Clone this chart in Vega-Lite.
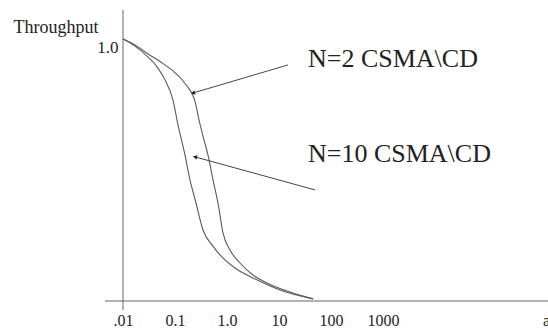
{
  "$schema": "https://vega.github.io/schema/vega-lite/v6.json",
  "width": 443,
  "height": 300,
  "autosize": {"type": "none"},
  "padding": {"left": 105, "top": 10, "right": 0, "bottom": 19},
  "background": "white",
  "config": {"view": {"stroke": null}, "font": "Liberation Serif"},
  "datasets": {
    "curves": [
      {"series": "N=10", "load": 0.01, "throughput": 1.0},
      {"series": "N=10", "load": 0.017, "throughput": 0.973},
      {"series": "N=10", "load": 0.0303, "throughput": 0.931},
      {"series": "N=10", "load": 0.0471, "throughput": 0.889},
      {"series": "N=10", "load": 0.0642, "throughput": 0.844},
      {"series": "N=10", "load": 0.0915, "throughput": 0.767},
      {"series": "N=10", "load": 0.1142, "throughput": 0.672},
      {"series": "N=10", "load": 0.1557, "throughput": 0.557},
      {"series": "N=10", "load": 0.1942, "throughput": 0.462},
      {"series": "N=10", "load": 0.2534, "throughput": 0.374},
      {"series": "N=10", "load": 0.3455, "throughput": 0.271},
      {"series": "N=10", "load": 0.5148, "throughput": 0.214},
      {"series": "N=10", "load": 0.7334, "throughput": 0.176},
      {"series": "N=10", "load": 1.425, "throughput": 0.126},
      {"series": "N=10", "load": 3.162, "throughput": 0.088},
      {"series": "N=10", "load": 10.45, "throughput": 0.042},
      {"series": "N=10", "load": 45.08, "throughput": 0.008},
      {"series": "N=2", "load": 0.01, "throughput": 1.0},
      {"series": "N=2", "load": 0.017, "throughput": 0.977},
      {"series": "N=2", "load": 0.0303, "throughput": 0.943},
      {"series": "N=2", "load": 0.0515, "throughput": 0.914},
      {"series": "N=2", "load": 0.0876, "throughput": 0.881},
      {"series": "N=2", "load": 0.1557, "throughput": 0.83},
      {"series": "N=2", "load": 0.2424, "throughput": 0.762},
      {"series": "N=2", "load": 0.2895, "throughput": 0.691},
      {"series": "N=2", "load": 0.3612, "throughput": 0.615},
      {"series": "N=2", "load": 0.4313, "throughput": 0.557},
      {"series": "N=2", "load": 0.5383, "throughput": 0.462},
      {"series": "N=2", "load": 0.6714, "throughput": 0.374},
      {"series": "N=2", "load": 0.8376, "throughput": 0.26},
      {"series": "N=2", "load": 1.142, "throughput": 0.195},
      {"series": "N=2", "load": 1.778, "throughput": 0.145},
      {"series": "N=2", "load": 3.162, "throughput": 0.099},
      {"series": "N=2", "load": 5.878, "throughput": 0.069},
      {"series": "N=2", "load": 16.27, "throughput": 0.034},
      {"series": "N=2", "load": 45.08, "throughput": 0.008}
    ],
    "arrows": [
      {"label": "N=2 CSMA\\CD", "x1": 14.9, "y1": 0.901, "x2": 0.222, "y2": 0.794, "tx": 36.1, "ty": 0.893, "angle": -16},
      {"label": "N=10 CSMA\\CD", "x1": 49.2, "y1": 0.424, "x2": 0.2424, "y2": 0.55, "tx": 36.1, "ty": 0.531, "angle": 15}
    ],
    "axislabel": [{"label": "a", "x": 1190000, "y": -0.076}]
  },
  "layer": [
    {
      "data": {"values": [{"v": 0.01}]},
      "mark": {"type": "rule", "color": "#666", "strokeWidth": 1},
      "encoding": {"x": {"field": "v", "type": "quantitative", "scale": {"type": "log", "domain": [0.004508, 1490000], "nice": false}}}
    },
    {
      "data": {"values": [{"v": 0}]},
      "mark": {"type": "rule", "color": "#666", "strokeWidth": 1},
      "encoding": {"y": {"field": "v", "type": "quantitative", "scale": {"domain": [-0.0344, 1.1107], "nice": false, "zero": false}}}
    },
    {
      "data": {"name": "curves"},
      "mark": {"type": "line", "interpolate": "monotone", "color": "#5a5a5a", "strokeWidth": 1.1},
      "encoding": {
        "x": {"field": "load", "type": "quantitative",
          "scale": {"type": "log", "domain": [0.004508, 1490000], "nice": false},
          "axis": {"values": [0.01, 0.1, 1, 10, 100, 1000], "domain": false, "ticks": false, "grid": false, "title": null,
            "labelExpr": "datum.value == 0.01 ? '.01' : datum.value == 0.1 ? '0.1' : datum.value == 1 ? '1.0' : datum.value == 10 ? '10' : datum.value == 100 ? '100' : '1000'",
            "labelFont": "Liberation Serif", "labelFontSize": 16, "labelColor": "#222", "labelPadding": 2, "labelFlush": false, "labelOverlap": false}},
        "y": {"field": "throughput", "type": "quantitative",
          "scale": {"domain": [-0.0344, 1.1107], "nice": false, "zero": false},
          "axis": {"values": [1], "domain": false, "ticks": false, "grid": false,
            "labelExpr": "'1.0'", "labelFont": "Liberation Serif", "labelFontSize": 17, "labelColor": "#222", "labelPadding": -13, "labelOffset": 8,
            "title": "Throughput", "titleAngle": 0, "titleAlign": "left", "titleBaseline": "alphabetic", "titleX": -92, "titleY": 22,
            "titleFont": "Liberation Serif", "titleFontSize": 18, "titleFontWeight": "normal", "titleColor": "#222"}},
        "detail": {"field": "series"}
      }
    },
    {
      "data": {"name": "arrows"},
      "mark": {"type": "rule", "color": "#444", "strokeWidth": 1},
      "encoding": {
        "x": {"field": "x1", "type": "quantitative"},
        "y": {"field": "y1", "type": "quantitative"},
        "x2": {"field": "x2"},
        "y2": {"field": "y2"}
      }
    },
    {
      "data": {"name": "arrows"},
      "mark": {"type": "point", "shape": "triangle-left", "filled": true, "color": "#222", "size": 22, "opacity": 1},
      "encoding": {
        "x": {"field": "x2", "type": "quantitative"},
        "y": {"field": "y2", "type": "quantitative"},
        "angle": {"field": "angle", "type": "quantitative", "scale": null}
      }
    },
    {
      "data": {"name": "arrows"},
      "mark": {"type": "text", "align": "left", "baseline": "alphabetic", "font": "Liberation Serif", "fontSize": 26, "color": "#222"},
      "encoding": {
        "x": {"field": "tx", "type": "quantitative"},
        "y": {"field": "ty", "type": "quantitative"},
        "text": {"field": "label"}
      }
    },
    {
      "data": {"name": "axislabel"},
      "mark": {"type": "text", "align": "left", "baseline": "middle", "font": "Liberation Serif", "fontSize": 16, "color": "#222"},
      "encoding": {
        "x": {"field": "x", "type": "quantitative"},
        "y": {"field": "y", "type": "quantitative"},
        "text": {"field": "label"}
      }
    }
  ]
}
